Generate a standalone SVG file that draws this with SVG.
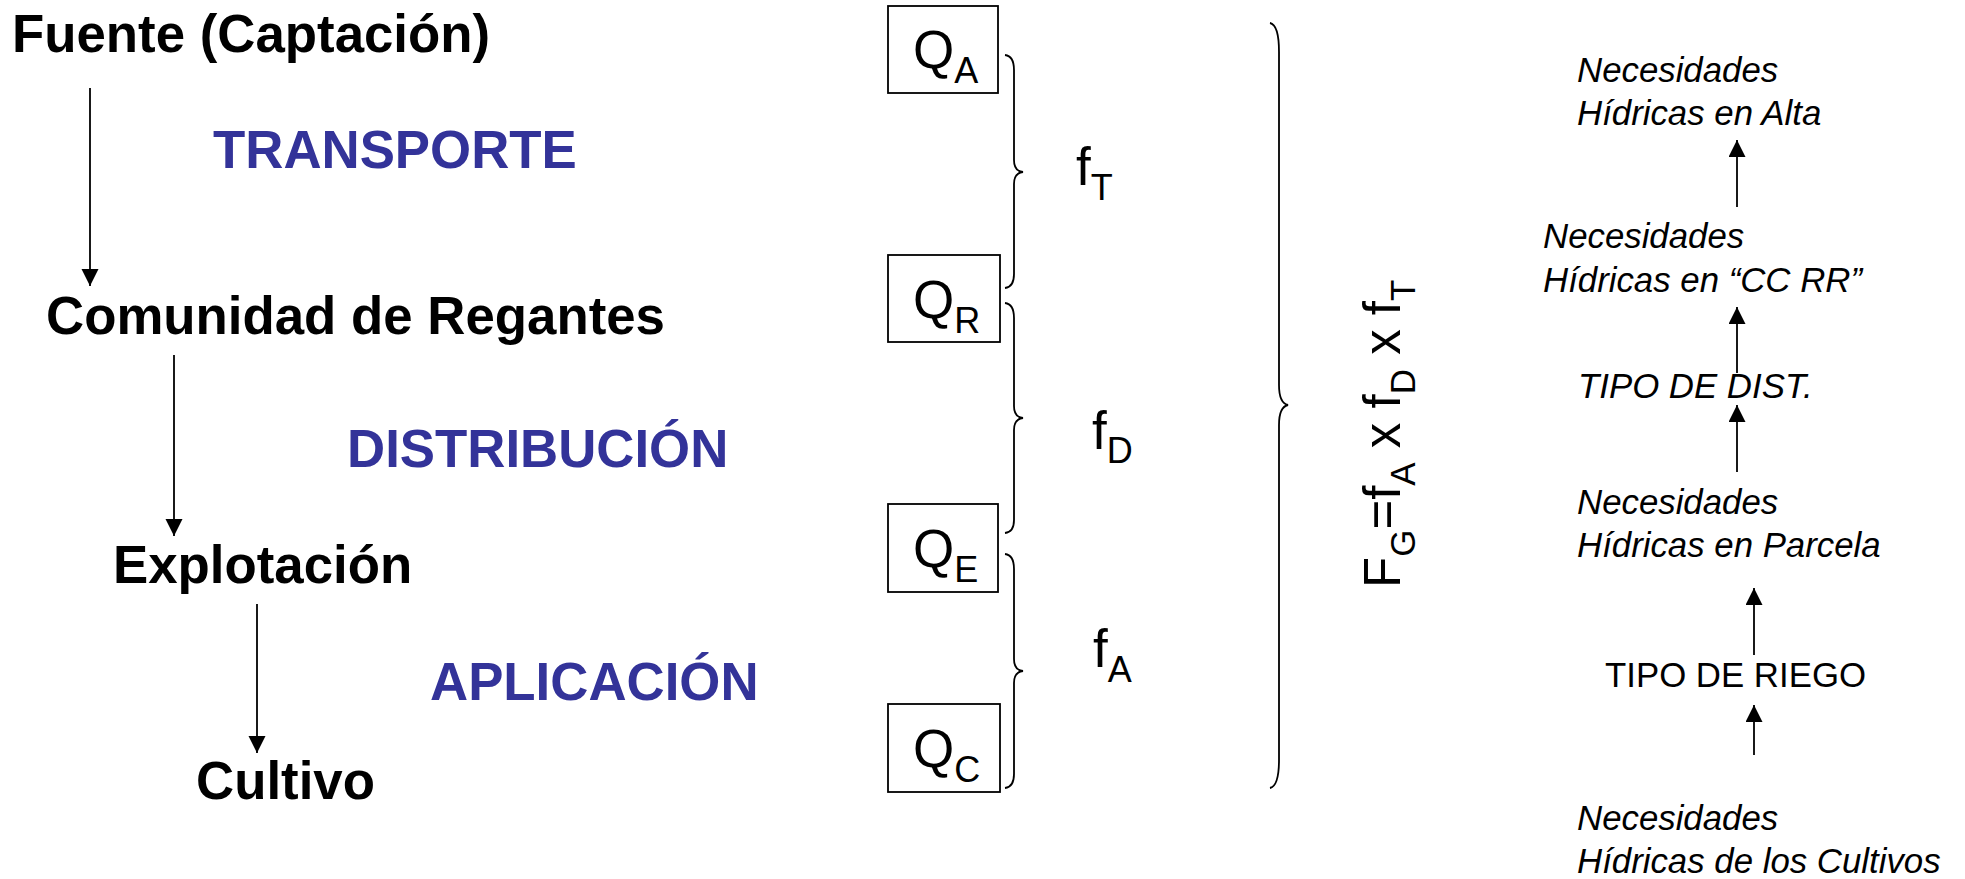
<svg xmlns="http://www.w3.org/2000/svg" width="1965" height="879" viewBox="0 0 1965 879">
<defs>
<style>
text{font-family:"Liberation Sans",Arial,sans-serif;fill:#000}
.big{font-size:52.8px;font-weight:bold}
.blue{fill:#333399}
.q{font-size:53px}
.sub{font-size:36px}
.fm{font-size:51px}
.fs{font-size:35px}
.r{font-size:34.8px}
.it{font-style:italic}
.box{fill:none;stroke:#000;stroke-width:1.8}
.br{fill:none;stroke:#000;stroke-width:1.8}
.ln{stroke:#000;stroke-width:1.8;fill:none}
</style>
<marker id="ah" markerUnits="userSpaceOnUse" markerWidth="18" markerHeight="18" refX="17" refY="8.5" orient="auto" viewBox="0 0 18 18">
<path d="M0,0 L17,8.5 L0,17 z" fill="#000"/>
</marker>
</defs>
<rect width="1965" height="879" fill="#fff"/>

<g id="n-fuente"><text class="big" x="12" y="52">Fuente (Captación)</text></g>
<g id="n-transporte"><text class="big blue" x="213" y="168">TRANSPORTE</text></g>
<g id="n-comunidad"><text class="big" x="46" y="334">Comunidad de Regantes</text></g>
<g id="n-distribucion"><text class="big blue" x="347" y="467">DISTRIBUCIÓN</text></g>
<g id="n-explotacion"><text class="big" x="113" y="583">Explotación</text></g>
<g id="n-aplicacion"><text class="big blue" x="430" y="700">APLICACIÓN</text></g>
<g id="n-cultivo"><text class="big" x="196" y="799">Cultivo</text></g>

<g id="n-qa"><rect class="box" x="888" y="6" width="110" height="87"/><text class="q" x="913" y="68">Q<tspan class="sub" dy="15">A</tspan></text></g>
<g id="n-qr"><rect class="box" x="888" y="255" width="112" height="87"/><text class="q" x="913" y="318">Q<tspan class="sub" dy="15">R</tspan></text></g>
<g id="n-qe"><rect class="box" x="888" y="504" width="110" height="88"/><text class="q" x="913" y="567">Q<tspan class="sub" dy="15">E</tspan></text></g>
<g id="n-qc"><rect class="box" x="888" y="704" width="112" height="88"/><text class="q" x="913" y="767">Q<tspan class="sub" dy="15">C</tspan></text></g>

<g id="n-ft"><text class="q" x="1076" y="185">f<tspan class="sub" dy="14.5">T</tspan></text></g>
<g id="n-fd"><text class="q" x="1092" y="448.5">f<tspan class="sub" dy="14.5">D</tspan></text></g>
<g id="n-fa"><text class="q" x="1093" y="667">f<tspan class="sub" dy="14.5">A</tspan></text></g>

<g id="n-formula"><text class="fm" transform="translate(1400,588) rotate(-90)" x="0" y="0">F<tspan class="fs" dy="15">G</tspan><tspan dy="-15">=f</tspan><tspan class="fs" dy="15">A</tspan><tspan dy="-15"> x f</tspan><tspan class="fs" dy="15">D</tspan><tspan dy="-15"> x f</tspan><tspan class="fs" dy="15">T</tspan></text></g>

<g id="n-alta"><text class="r it" x="1577" y="82">Necesidades</text><text class="r it" x="1577" y="125">Hídricas en Alta</text></g>
<g id="n-ccrr"><text class="r it" x="1543" y="248">Necesidades</text><text class="r it" x="1543" y="292">Hídricas en “CC RR”</text></g>
<g id="n-dist"><text class="r it" x="1578" y="398">TIPO DE DIST.</text></g>
<g id="n-parcela"><text class="r it" x="1577" y="514">Necesidades</text><text class="r it" x="1577" y="557">Hídricas en Parcela</text></g>
<g id="n-riego"><text class="r" x="1605" y="687">TIPO DE RIEGO</text></g>
<g id="n-cultivos"><text class="r it" x="1577" y="830">Necesidades</text><text class="r it" x="1577" y="873">Hídricas de los Cultivos</text></g>

<g id="connectors">
<line class="ln" x1="90" y1="88" x2="90" y2="286" marker-end="url(#ah)"/>
<line class="ln" x1="174" y1="355" x2="174" y2="536" marker-end="url(#ah)"/>
<line class="ln" x1="257" y1="604" x2="257" y2="753" marker-end="url(#ah)"/>

<line class="ln" x1="1737" y1="207" x2="1737" y2="140" marker-end="url(#ah)"/>
<line class="ln" x1="1737" y1="373" x2="1737" y2="307" marker-end="url(#ah)"/>
<line class="ln" x1="1737" y1="472" x2="1737" y2="405" marker-end="url(#ah)"/>
<line class="ln" x1="1754" y1="655" x2="1754" y2="588" marker-end="url(#ah)"/>
<line class="ln" x1="1754" y1="755" x2="1754" y2="705" marker-end="url(#ah)"/>

<path class="br" d="M1005,55 Q1014,56 1014,70 L1014,160 Q1014,171 1023,172 Q1014,173 1014,184 L1014,274 Q1014,287 1005,288"/>
<path class="br" d="M1005,303 Q1014,304 1014,318 L1014,406 Q1014,417 1023,418 Q1014,419 1014,430 L1014,520 Q1014,532 1005,533"/>
<path class="br" d="M1005,554 Q1014,555 1014,569 L1014,659 Q1014,670 1023,671 Q1014,672 1014,683 L1014,774 Q1014,787 1005,788"/>
<path class="br" d="M1270,23 Q1279,25 1279,52 L1279,385 Q1279,403 1288,405 Q1279,407 1279,425 L1279,760 Q1279,786 1270,788"/>
</g>
</svg>
